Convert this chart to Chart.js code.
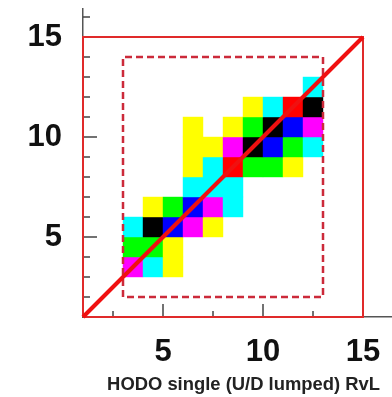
<!DOCTYPE html>
<html lang="en">
<head>
    <meta charset="UTF-8">
    <title>HODO single RvL</title>
    <script src="https://cdn.jsdelivr.net/npm/chart.js"></script>
    <style>
        html, body {
            margin: 0;
            padding: 0;
            background: #ffffff;
            overflow: hidden;
        }
        #wrap {
            width: 392px;
            height: 397px;
            overflow: hidden;
        }
    </style>
</head>
<body>
    <div id="wrap">
        <canvas id="hodo" width="404" height="397"></canvas>
    </div>
    <script>
        // 2D histogram bins (lower edges) and their colour level
        const cellX = [3, 4, 5,  3, 4, 5,  3, 4, 5, 6, 7,  4, 5, 6, 7, 8,  6, 7, 8,
                       6, 7, 8, 9, 10, 11,  6, 7, 8, 9, 10, 11, 12,  6, 8, 9, 10, 11, 12,
                       9, 10, 11, 12,  12];
        const cellY = [3, 3, 3,  4, 4, 4,  5, 5, 5, 5, 5,  6, 6, 6, 6, 6,  7, 7, 7,
                       8, 8, 8, 8, 8, 8,  9, 9, 9, 9, 9, 9, 9,  10, 10, 10, 10, 10, 10,
                       11, 11, 11, 11,  12];
        const cellLevel = [4, 2, 1,  3, 3, 1,  2, 6, 5, 4, 1,  1, 3, 5, 4, 2,  2, 2, 2,
                           1, 2, 7, 3, 3, 1,  1, 1, 4, 6, 5, 3, 2,  1, 1, 3, 6, 5, 4,
                           1, 2, 7, 6,  2];
        const palette = ['#ffffff', '#ffff00', '#00ffff', '#00ff00', '#ff00ff', '#0000ff', '#000000', '#ff0000'];

        // outer box, cut box and diagonal
        const boxX = [1, 15];
        const boxY = [1, 15];
        const cutX = [3, 13];
        const cutY = [2, 14];
        const diagX = [1, 15];
        const diagY = [1, 15];

        // axes
        const xRange = [1, 17.05];
        const yRange = [1, 16.4];
        const xLabels = [5, 10, 15];
        const yLabels = [5, 10, 15];
        const xMinor = [2.5, 7.5, 12.5];
        const yMinor = [2, 3, 4, 6, 7, 8, 9, 11, 12, 13, 14, 16];

        const cells = cellX.map((x, i) => ({ x: x + 0.5, y: cellY[i] + 0.5 }));
        const rectPts = (xs, ys) => [
            { x: xs[0], y: ys[0] }, { x: xs[0], y: ys[1] }, { x: xs[1], y: ys[1] },
            { x: xs[1], y: ys[0] }, { x: xs[0], y: ys[0] }
        ];

        // inward tick marks, ROOT style
        const innerTicks = {
            id: 'innerTicks',
            beforeDatasetsDraw(chart) {
                const { ctx, scales: { x, y } } = chart;
                const x0 = x.getPixelForValue(xRange[0]);
                const y0 = y.getPixelForValue(yRange[0]);
                ctx.save();
                ctx.strokeStyle = '#444';
                ctx.lineWidth = 1.5;
                ctx.beginPath();
                yMinor.forEach(v => { const p = y.getPixelForValue(v); ctx.moveTo(x0, p); ctx.lineTo(x0 + 7, p); });
                yLabels.forEach(v => { const p = y.getPixelForValue(v); ctx.moveTo(x0, p); ctx.lineTo(x0 + 14, p); });
                xMinor.forEach(v => { const p = x.getPixelForValue(v); ctx.moveTo(p, y0); ctx.lineTo(p, y0 - 6); });
                xLabels.forEach(v => { const p = x.getPixelForValue(v); ctx.moveTo(p, y0); ctx.lineTo(p, y0 - 13); });
                ctx.stroke();
                ctx.restore();
            }
        };

        const tickFont = { family: 'Liberation Sans, Arial, sans-serif', size: 31, weight: 'bold' };
        const noPad = s => { s.paddingTop = 0; s.paddingBottom = 0; s.paddingLeft = 0; s.paddingRight = 0; };

        new Chart(document.getElementById('hodo'), {
            type: 'scatter',
            data: {
                datasets: [
                    {
                        data: diagX.map((x, i) => ({ x, y: diagY[i] })),
                        showLine: true,
                        borderColor: '#f01010',
                        borderWidth: 4,
                        pointRadius: 0,
                        clip: false,
                        order: 1
                    },
                    {
                        data: rectPts(boxX, boxY),
                        showLine: true,
                        borderColor: '#e02a2a',
                        borderWidth: 2,
                        pointRadius: 0,
                        clip: false,
                        order: 2
                    },
                    {
                        data: rectPts(cutX, cutY),
                        showLine: true,
                        borderColor: '#cc2a3a',
                        borderWidth: 2.5,
                        borderDash: [7, 4],
                        pointRadius: 0,
                        clip: false,
                        order: 2
                    },
                    {
                        data: cells,
                        pointStyle: 'rect',
                        borderWidth: 0,
                        backgroundColor: c => palette[cellLevel[c.dataIndex]],
                        pointRadius: c => {
                            const s = c.chart.scales.x;
                            return (s.getPixelForValue(1) - s.getPixelForValue(0)) / Math.SQRT2 + 0.3;
                        },
                        order: 3
                    }
                ]
            },
            options: {
                responsive: false,
                animation: false,
                events: [],
                layout: { padding: { top: 9, left: 0, right: 0, bottom: 0 } },
                plugins: { legend: { display: false }, tooltip: { enabled: false } },
                scales: {
                    x: {
                        type: 'linear',
                        min: xRange[0],
                        max: xRange[1],
                        afterBuildTicks: s => { s.ticks = xLabels.map(v => ({ value: v })); },
                        afterFit: s => { s.height = 80; noPad(s); },
                        grid: { display: false, drawTicks: false },
                        border: { display: true, color: '#555', width: 1.5 },
                        ticks: { font: tickFont, color: '#111', padding: 17, maxRotation: 0 },
                        title: {
                            display: true,
                            text: 'HODO single (U/D lumped) RvL',
                            color: '#222',
                            font: { family: 'Liberation Sans, Arial, sans-serif', size: 18.4, weight: 'bold' },
                            padding: { top: 0, bottom: 1 }
                        }
                    },
                    y: {
                        type: 'linear',
                        min: yRange[0],
                        max: yRange[1],
                        afterBuildTicks: s => { s.ticks = yLabels.map(v => ({ value: v })); },
                        afterFit: s => { s.width = 83; noPad(s); },
                        grid: { display: false, drawTicks: false },
                        border: { display: true, color: '#555', width: 1.5 },
                        ticks: { font: tickFont, color: '#111', padding: 21 }
                    }
                }
            },
            plugins: [innerTicks]
        });
    </script>
</body>
</html>
